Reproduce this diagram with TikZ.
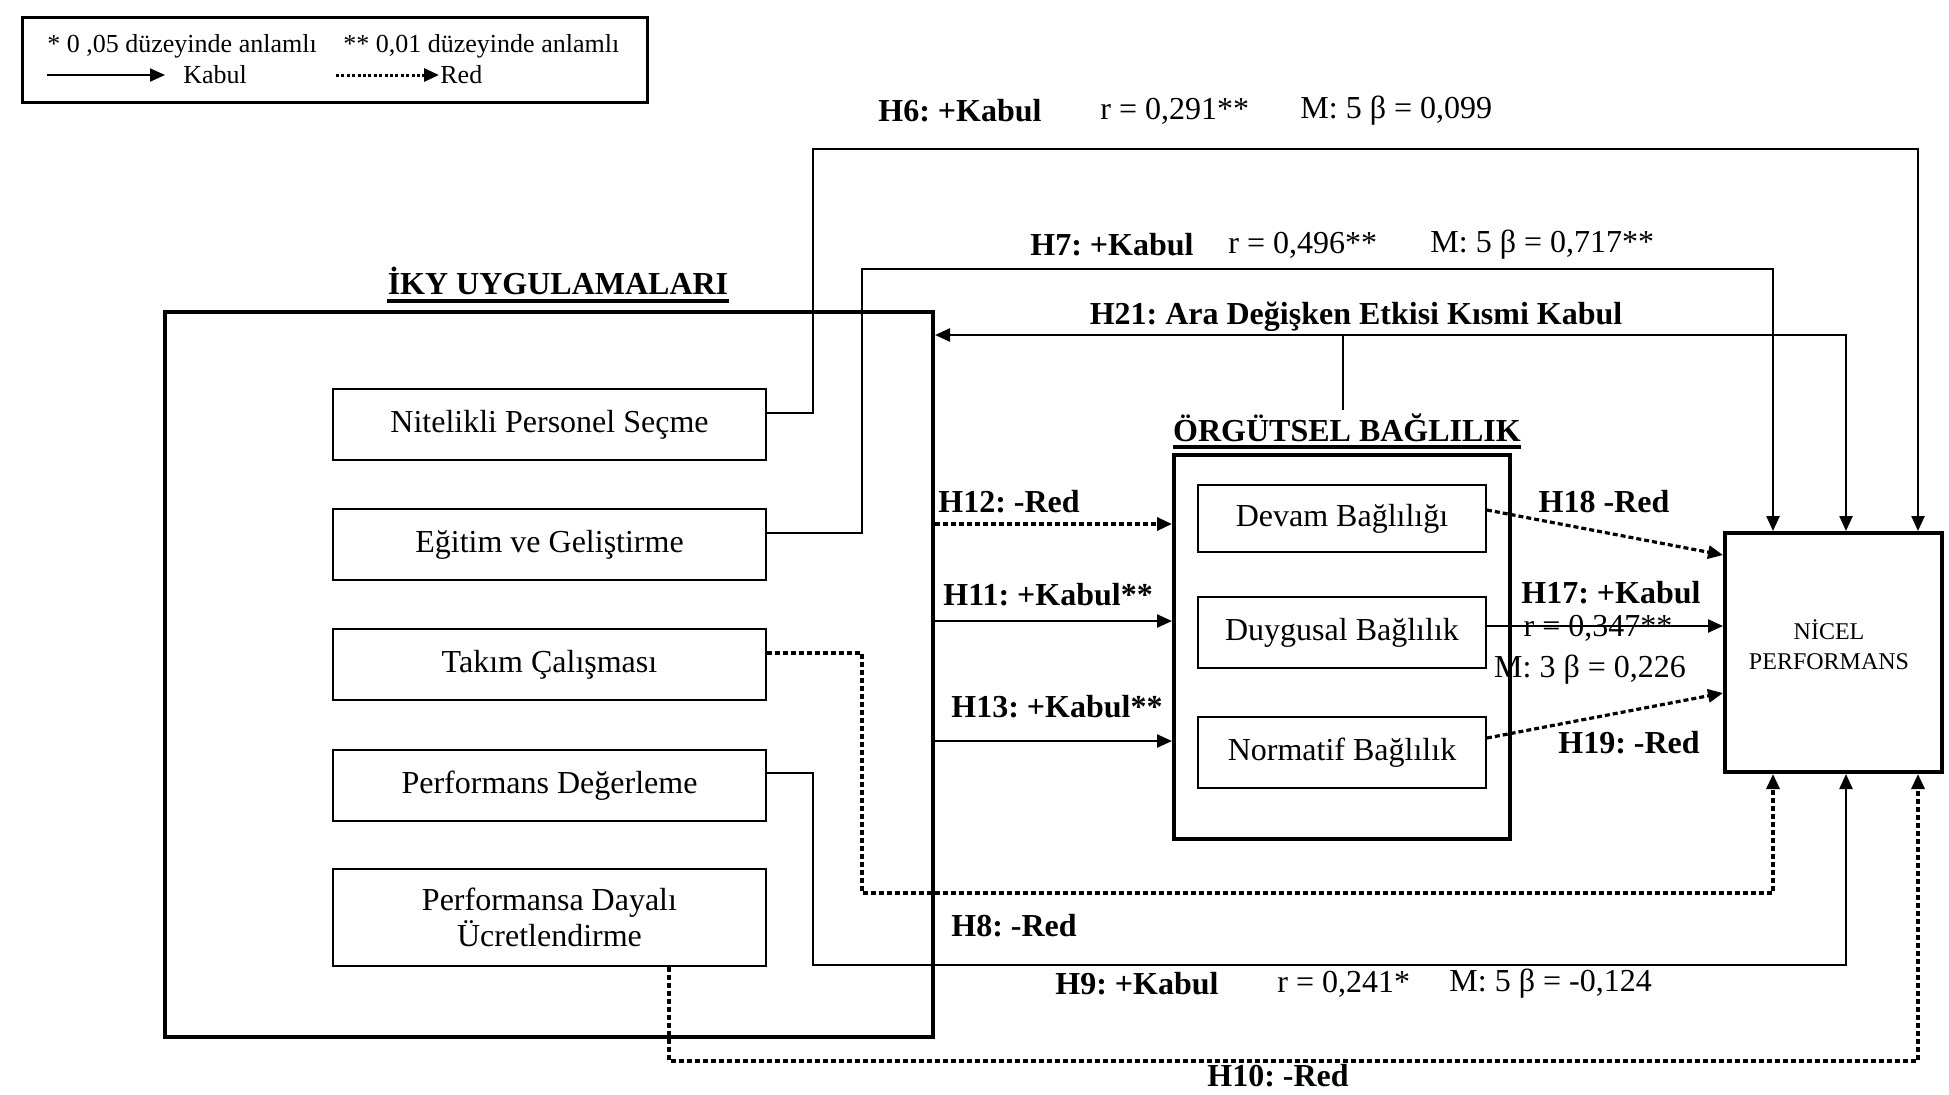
\documentclass[tikz,border=0pt]{standalone}
\usepackage{fontspec}
\setmainfont{Liberation Serif}
\usetikzlibrary{arrows.meta}
\frenchspacing

\begin{document}
\begin{tikzpicture}[x=0.5pt,y=-0.5pt,
  >={Triangle[length=7.5pt,width=6.5pt]},
  itembox/.style={draw,line width=1pt,minimum width=216.5pt,minimum height=35.5pt,inner sep=0pt,align=center,font=\fontsize{16}{18}\selectfont},
  subbox/.style={draw,line width=1pt,minimum width=144pt,minimum height=35.5pt,inner sep=0pt,font=\fontsize{16}{18}\selectfont},
  framebox/.style={draw,line width=2pt,inner sep=0pt},
  kabularr/.style={line width=1.2pt,->},
  redarr/.style={line width=1.6pt,dash pattern=on 2.5pt off 1.5pt,->},
  plainline/.style={line width=1.2pt},
  hlab/.style={font=\fontsize{16}{18}\selectfont\bfseries,inner sep=0pt},
  vlab/.style={font=\fontsize{16}{18}\selectfont,inner sep=0pt},
  leglab/.style={font=\fontsize{13}{15}\selectfont,inner sep=0pt,anchor=west},
  title/.style={font=\fontsize{16}{18}\selectfont\bfseries,inner sep=0pt}
]
\fill[white] (0,0) rectangle (1949,1094);
\useasboundingbox (0,0) rectangle (1949,1094);

% legend
\node[draw,line width=1.5pt,minimum width=312.5pt,minimum height=42.5pt,inner sep=0pt] (leg) at (334.5,59.5) {};
\node[leglab] (lg1) at (47,46) {* 0 ,05 düzeyinde anlamlı};
\node[leglab] (lg2) at (343,46) {** 0,01 düzeyinde anlamlı};
\coordinate (lka) at (47,75);
\coordinate (lkb) at (165,75);
\coordinate (lra) at (336,75);
\coordinate (lrb) at (439,75);
\draw[line width=1pt,->] (lka) -- (lkb);
\draw[line width=1.5pt,dash pattern=on 1.5pt off 1.2pt,->] (lra) -- (lrb);
\node[leglab] (lgk) at (183,75) {Kabul};
\node[leglab] (lgr) at (440,75) {Red};

% HR practices block
\node[title] (ikyt) at (558,281) {İKY UYGULAMALARI};
\draw[line width=2pt] ([yshift=-3pt]ikyt.base west) -- ([yshift=-3pt]ikyt.base east);
\node[framebox,minimum width=384pt,minimum height=362.5pt] (iky) at (549,674.5) {};
\node[itembox] (nps) at (549.5,424.5) {Nitelikli Personel Seçme};
\node[itembox] (egt) at (549.5,544.5) {Eğitim ve Geliştirme};
\node[itembox] (tkm) at (549.5,664.5) {Takım Çalışması};
\node[itembox] (pdg) at (549.5,785.5) {Performans Değerleme};
\node[itembox,minimum height=48.5pt] (pdu) at (549.5,917.5) {Performansa Dayalı\\Ücretlendirme};

% organisational commitment block
\node[title] (obt) at (1347,428) {ÖRGÜTSEL BAĞLILIK};
\draw[line width=2pt] ([yshift=-2.5pt]obt.base west) -- ([yshift=-2.5pt]obt.base east);
\node[framebox,minimum width=168pt,minimum height=192pt] (ob) at (1342,647) {};
\node[subbox,minimum height=33.5pt] (dev) at (1342,518.5) {Devam Bağlılığı};
\node[subbox] (duy) at (1342,632.5) {Duygusal Bağlılık};
\node[subbox] (nor) at (1342,752.5) {Normatif Bağlılık};

% outcome
\node[framebox,minimum width=108.5pt,minimum height=119.5pt] (np) at (1833.5,652.5) {};
\node[align=center,inner sep=0pt,font=\fontsize{12}{15}\selectfont] (npt) at (1829,645) {NİCEL\\PERFORMANS};

% H6
\coordinate (h6a) at (813,149);
\coordinate (h6b) at (1918,149);
\draw[kabularr] ([yshift=5.75pt]nps.east) -| (h6a) -- (h6b) -- (h6b |- np.north);
\node[hlab,anchor=west] (l6) at (878,111) {H6: +Kabul};
\node[vlab,anchor=west] (r6) at (1100,111) {r = 0,291**};
\node[vlab,anchor=west] (m6) at (1300,111) {M: 5 β = 0,099};

% H7
\coordinate (h7a) at (862,269);
\coordinate (h7b) at (1773,269);
\draw[kabularr] ([yshift=5.75pt]egt.east) -| (h7a) -- (h7b) -- (h7b |- np.north);
\node[hlab,anchor=west] (l7) at (1030,245) {H7: +Kabul};
\node[vlab,anchor=west] (r7) at (1228,245) {r = 0,496**};
\node[vlab,anchor=west] (m7) at (1430,245) {M: 5 β = 0,717**};

% H21 mediation
\coordinate (h21a) at (1343,335);
\coordinate (h21b) at (1846,335);
\draw[plainline,<->] (iky.east |- h21a) -- (h21b) -- (h21b |- np.north);
\draw[plainline] (h21a) -- ([yshift=2pt]h21a |- obt.north);
\node[hlab] (l21) at (1356,317) {H21: Ara Değişken Etkisi Kısmi Kabul};

% HR -> commitment
\coordinate (y12) at (0,524);
\coordinate (y11) at (0,621);
\coordinate (y13) at (0,741);
\draw[redarr] (iky.east |- y12) -- (ob.west |- y12);
\draw[kabularr] (iky.east |- y11) -- (ob.west |- y11);
\draw[kabularr] (iky.east |- y13) -- (ob.west |- y13);
\node[hlab,anchor=west] (l12) at (938,502) {H12: -Red};
\node[hlab,anchor=west] (l11) at (943,595) {H11: +Kabul**};
\node[hlab,anchor=west] (l13) at (951,707) {H13: +Kabul**};

% commitment -> performance
\coordinate (y18) at (0,555);
\coordinate (y17) at (0,626);
\coordinate (y19) at (0,693);
\draw[redarr] ([yshift=4.25pt]dev.east) -- (np.west |- y18);
\draw[kabularr] ([yshift=3.25pt]duy.east) -- (np.west |- y17);
\draw[redarr] ([yshift=7.25pt]nor.east) -- (np.west |- y19);
\node[hlab] (l18) at (1604,502) {H18 -Red};
\node[hlab] (l17) at (1611,593) {H17: +Kabul};
\node[vlab] (r17) at (1598,628) {r = 0,347**};
\node[vlab] (m17) at (1590,670) {M: 3 β = 0,226};
\node[hlab] (l19) at (1629,743) {H19: -Red};

% H8
\coordinate (h8a) at (862,893);
\coordinate (h8b) at (1773,893);
\draw[redarr] ([yshift=5.75pt]tkm.east) -| (h8a) -- (h8b) -- (h8b |- np.south);
\node[hlab,anchor=west] (l8) at (951,926) {H8: -Red};

% H9
\coordinate (h9a) at (813,965);
\coordinate (h9b) at (1846,965);
\draw[kabularr] ([yshift=6.25pt]pdg.east) -| (h9a) -- (h9b) -- (h9b |- np.south);
\node[hlab,anchor=west] (l9) at (1055,984) {H9: +Kabul};
\node[vlab,anchor=west] (r9) at (1277,984) {r = 0,241*};
\node[vlab,anchor=west] (m9) at (1449,984) {M: 5 β = -0,124};

% H10
\coordinate (h10a) at (669,1061);
\coordinate (h10b) at (1918,1061);
\draw[redarr] (pdu.south -| h10a) -- (h10a) -- (h10b) -- (h10b |- np.south);
\node[hlab,anchor=west] (l10) at (1207,1076) {H10: -Red};

\end{tikzpicture}
\end{document}
